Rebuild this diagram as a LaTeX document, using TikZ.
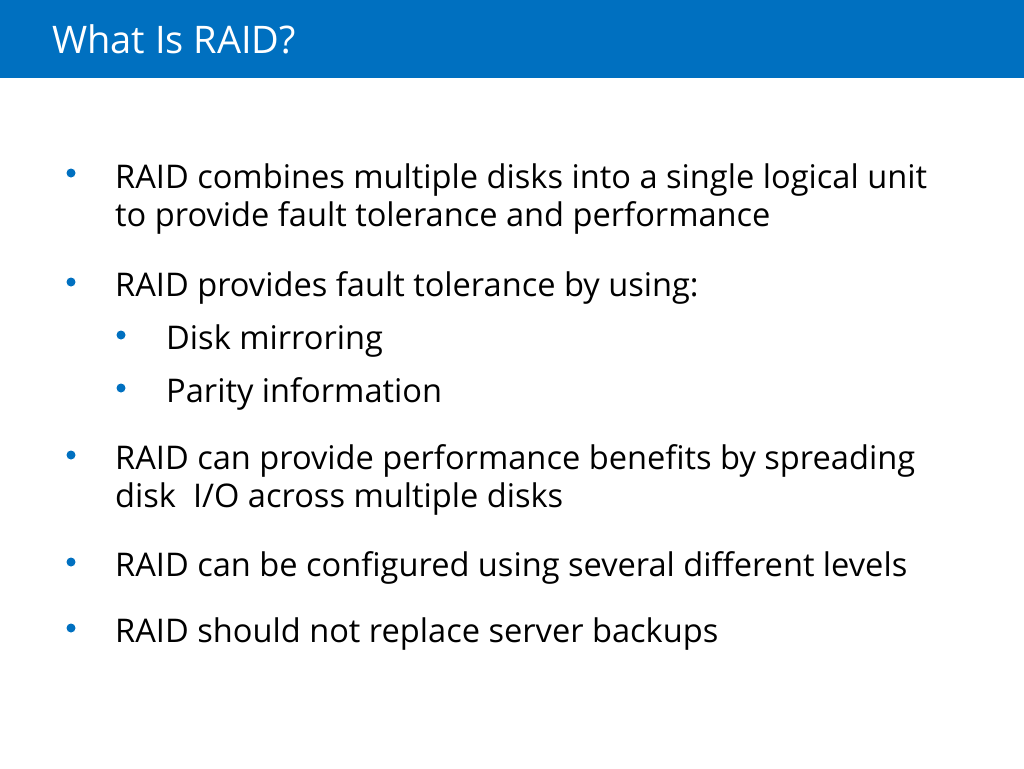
\documentclass[tikz,border=0pt]{standalone}
\usepackage{fontspec}
\setmainfont{Open Sans}
\definecolor{barblue}{RGB}{0,112,192}
\definecolor{txt}{RGB}{0,0,0}
\begin{document}
\begin{tikzpicture}[x=1pt,y=-1pt,
  body/.style={anchor=base west,inner sep=0pt,font=\fontsize{32.6}{38}\selectfont,text=txt},
  dot/.style={circle,fill=barblue,inner sep=0pt,minimum size=9pt}]
\useasboundingbox (0,0) rectangle (1024,768);
\fill[barblue] (0,0) rectangle (1024,78);
\node[anchor=base west,inner sep=0pt,text=white,font=\fontsize{38}{44}\selectfont] (title) at (52,53) {What Is RAID?};
% bullets
\node[dot] (d1) at (71,173) {};
\node[body] (t1) at (115,188) {RAID combines multiple disks into a single logical unit};
\node[body] (t1b) at (115,226) {to provide fault tolerance and performance};
\node[dot] (d2) at (71,282) {};
\node[body] (t2) at (115,296) {RAID provides fault tolerance by using:};
\node[dot] (d2a) at (121,335) {};
\node[body] (t2a) at (166,349) {Disk mirroring};
\node[dot] (d2b) at (121,388) {};
\node[body] (t2b) at (166,402) {Parity information};
\node[dot] (d3) at (71,455) {};
\node[body] (t3) at (115,469) {RAID can provide performance benefits by spreading};
\node[body] (t3b) at (115,507) {disk\ \ I/O across multiple disks};
\node[dot] (d4) at (71,562) {};
\node[body] (t4) at (115,576) {RAID can be configured using several different levels};
\node[dot] (d5) at (71,628) {};
\node[body] (t5) at (115,642) {RAID should not replace server backups};
\end{tikzpicture}
\end{document}
